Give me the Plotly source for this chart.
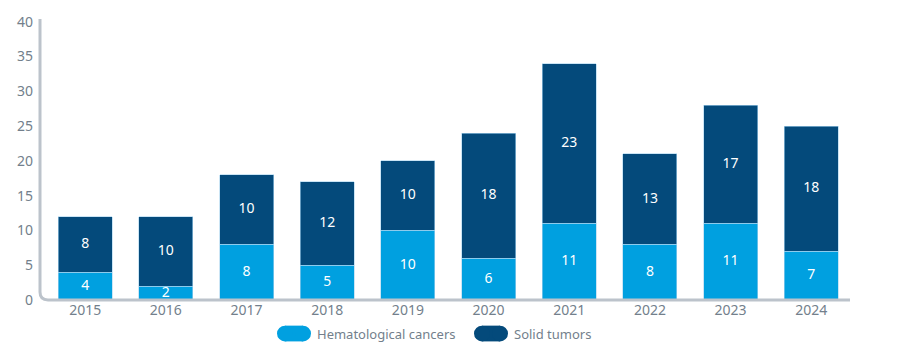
import plotly.graph_objects as go

years = ["2015", "2016", "2017", "2018", "2019", "2020", "2021", "2022", "2023", "2024"]
hematological = [4, 2, 8, 5, 10, 6, 11, 8, 11, 7]
solid = [8, 10, 10, 12, 10, 18, 23, 13, 17, 18]
series_names = ["Hematological cancers", "Solid tumors"]
y_ticks = [0, 5, 10, 15, 20, 25, 30, 35, 40]

C_HEME = "#00A0E0"
C_SOLID = "#044A7B"
C_AXIS = "#BCC3CB"
C_TEXT = "#737F8C"
FONT = "Noto Sans"

W, H = 922, 351
ML, MR, MT, MB = 40, 72, 15, 51

fig = go.Figure()
for name, vals, col in [(series_names[0], hematological, C_HEME), (series_names[1], solid, C_SOLID)]:
    fig.add_trace(go.Bar(
        x=years, y=vals, name=name,
        marker=dict(color=col, line=dict(color="#a9d3ee", width=0.6)),
        showlegend=False, hoverinfo="skip",
    ))

# value labels centred in each segment (text traces drawn above the bars)
heme_mid = [h / 2 for h in hematological]
solid_mid = [h + s / 2 for h, s in zip(hematological, solid)]
for mids, vals in [(heme_mid, hematological), (solid_mid, solid)]:
    fig.add_trace(go.Scatter(
        x=years, y=mids, mode="text", text=[str(v) for v in vals],
        textposition="middle center",
        textfont=dict(color="white", size=14, family=FONT),
        showlegend=False, hoverinfo="skip", cliponaxis=False,
    ))

fig.update_layout(
    width=W, height=H, barmode="stack", bargap=0.33,
    margin=dict(l=ML, r=MR, t=MT, b=MB),
    plot_bgcolor="white", paper_bgcolor="white",
    font=dict(family=FONT, color=C_TEXT, size=13),
    xaxis=dict(type="category", range=[-0.56, 9.48], showline=False, showgrid=False,
               ticks="", tickfont=dict(size=14, color=C_TEXT), zeroline=False),
    yaxis=dict(range=[0, 40.4], tickvals=y_ticks, showgrid=False, showline=False,
               zeroline=False, ticks="", tickfont=dict(size=14, color=C_TEXT),
               ticklabelstandoff=6),
    showlegend=False,
)

# rounded-corner axis line
pw = W - ML - MR
ph = H - MT - MB
r = 8
rx, ry = r / pw, r / ph
path = (f"M 0,1 L 0,{ry} Q 0,0 {rx},0 L 1,0")
fig.add_shape(type="path", xref="paper", yref="paper", path=path,
              line=dict(color=C_AXIS, width=3), layer="above")

# custom legend with pill markers
def px_x(p):
    return (p - ML) / pw
def px_y(p):
    return (H - MB - p) / ph

legend_items = [(series_names[0], C_HEME, 277), (series_names[1], C_SOLID, 474)]
for name, col, x0 in legend_items:
    x1 = x0 + 34
    yc = 334
    fig.add_shape(type="rect", xref="paper", yref="paper",
                  x0=px_x(x0 + 8), x1=px_x(x1 - 8), y0=px_y(yc + 8), y1=px_y(yc - 8),
                  fillcolor=col, line=dict(width=0))
    fig.add_shape(type="circle", xref="paper", yref="paper",
                  x0=px_x(x0), x1=px_x(x0 + 16), y0=px_y(yc + 8), y1=px_y(yc - 8),
                  fillcolor=col, line=dict(width=0))
    fig.add_shape(type="circle", xref="paper", yref="paper",
                  x0=px_x(x1 - 16), x1=px_x(x1), y0=px_y(yc + 8), y1=px_y(yc - 8),
                  fillcolor=col, line=dict(width=0))
    fig.add_annotation(xref="paper", yref="paper", x=px_x(x1 + 4), y=px_y(yc),
                       text=name, showarrow=False, xanchor="left", yanchor="middle",
                       font=dict(size=13, color=C_TEXT, family=FONT))

fig.write_html("out.html")
